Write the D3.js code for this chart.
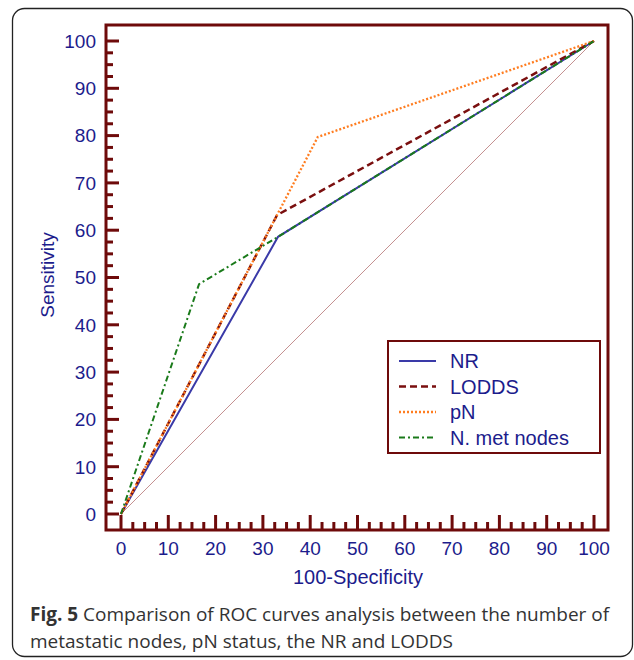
<!DOCTYPE html>
<html>
<head>
<meta charset="utf-8">
<script src="https://cdn.jsdelivr.net/npm/d3@7.9.0/dist/d3.min.js"></script>
<style>
  html, body { margin: 0; padding: 0; background: #fff; }
  svg { display: block; }
</style>
</head>
<body>
<svg id="chart" width="634" height="660"></svg>
<script>
// ROC curves, points are [100-specificity, sensitivity]
const seriesNames = ['NR', 'LODDS', 'pN', 'N. met nodes'];
const nrPoints = [[0, 0], [33.2, 58.6], [100, 100]];
const loddsPoints = [[0, 0], [33.0, 63.2], [100, 100]];
const pnPoints = [[0, 0], [41.6, 79.7], [100, 100]];
const metNodesPoints = [[0, 0], [16.5, 48.6], [33.2, 58.6], [100, 100]];
const refLine = [[0, 0], [100, 100]];
const majorTicks = [0, 10, 20, 30, 40, 50, 60, 70, 80, 90, 100];
const captionBold = 'Fig. 5';
const captionLines = [
  ' Comparison of ROC curves analysis between the number of',
  'metastatic nodes, pN status, the NR and LODDS'
];

const frameCol = '#6e0a0a';
const textCol = '#1c1c8c';
const font = 'Liberation Sans, Arial, sans-serif';

const svg = d3.select('#chart');

// outer rounded box round figure + caption
svg.append('rect')
  .attr('x', 12.5).attr('y', 8.5)
  .attr('width', 620).attr('height', 648)
  .attr('rx', 12)
  .attr('fill', 'none').attr('stroke', '#222').attr('stroke-width', 1.3);

const x = d3.scaleLinear().domain([0, 100]).range([121, 594]);
const y = d3.scaleLinear().domain([0, 100]).range([514, 41]);

const frame = { left: 106, right: 608, top: 25, bottom: 530 };

const minorTicks = d3.range(0, 100.1, 2.5).filter(v => v % 10 !== 0);

// ticks (point inward from frame)
const g = svg.append('g');
g.selectAll('.ytick')
  .data(majorTicks.map(v => [v, 13]).concat(minorTicks.map(v => [v, 7])))
  .join('line')
  .attr('x1', frame.left).attr('x2', d => frame.left + d[1])
  .attr('y1', d => y(d[0])).attr('y2', d => y(d[0]))
  .attr('stroke', frameCol).attr('stroke-width', 3);

g.selectAll('.xtick')
  .data(majorTicks.map(v => [v, 15]).concat(minorTicks.map(v => [v, 8])))
  .join('line')
  .attr('x1', d => x(d[0])).attr('x2', d => x(d[0]))
  .attr('y1', frame.bottom).attr('y2', d => frame.bottom - d[1])
  .attr('stroke', frameCol).attr('stroke-width', 3);

// tick labels
svg.append('g').selectAll('text')
  .data(majorTicks)
  .join('text')
  .attr('x', 96).attr('y', d => y(d))
  .attr('dy', '0.36em')
  .attr('text-anchor', 'end')
  .attr('font-family', font)
  .attr('font-size', 19)
  .attr('fill', textCol)
  .text(d => d);

svg.append('g').selectAll('text')
  .data(majorTicks)
  .join('text')
  .attr('x', d => x(d)).attr('y', 555)
  .attr('text-anchor', 'middle')
  .attr('font-family', font)
  .attr('font-size', 19)
  .attr('fill', textCol)
  .text(d => d);

// axis titles
svg.append('text')
  .attr('x', 358).attr('y', 584)
  .attr('text-anchor', 'middle')
  .attr('font-family', font)
  .attr('font-size', 20)
  .attr('fill', textCol)
  .text('100-Specificity');

svg.append('text')
  .attr('transform', 'translate(54,275) rotate(-90)')
  .attr('text-anchor', 'middle')
  .attr('font-family', font)
  .attr('font-size', 19)
  .attr('fill', textCol)
  .text('Sensitivity');

// curves
const line = d3.line().x(d => x(d[0])).y(d => y(d[1]));

svg.append('path').datum(refLine)
  .attr('d', line).attr('fill', 'none')
  .attr('stroke', '#c49090').attr('stroke-width', 1);

const styles = [
  { data: nrPoints, color: '#3a3aa8', width: 2, dash: null },
  { data: loddsPoints, color: '#7a0f0f', width: 2.5, dash: '7,4' },
  { data: pnPoints, color: '#ff7d20', width: 2.3, dash: '2,2' },
  { data: metNodesPoints, color: '#1a7a1a', width: 2, dash: '6,3,2,3' }
];

svg.append('g').selectAll('path')
  .data(styles)
  .join('path')
  .attr('d', d => line(d.data))
  .attr('fill', 'none')
  .attr('stroke', d => d.color)
  .attr('stroke-width', d => d.width)
  .attr('stroke-dasharray', d => d.dash);

// frame
svg.append('rect')
  .attr('x', frame.left).attr('y', frame.top)
  .attr('width', frame.right - frame.left).attr('height', frame.bottom - frame.top)
  .attr('fill', 'none').attr('stroke', frameCol).attr('stroke-width', 3);

// legend
const lg = svg.append('g');
lg.append('rect')
  .attr('x', 388).attr('y', 341).attr('width', 212).attr('height', 112)
  .attr('fill', '#fff').attr('stroke', frameCol).attr('stroke-width', 2);

const rows = lg.selectAll('g.row')
  .data(styles)
  .join('g')
  .attr('transform', (d, i) => 'translate(0,' + (361 + i * 25.5) + ')');

rows.append('line')
  .attr('x1', 399).attr('x2', 436)
  .attr('stroke', d => d.color)
  .attr('stroke-width', d => d.width)
  .attr('stroke-dasharray', d => d.dash);

rows.append('text')
  .attr('x', 450).attr('dy', '0.36em')
  .attr('font-family', font)
  .attr('font-size', 20)
  .attr('fill', textCol)
  .text((d, i) => seriesNames[i]);

// caption
const cap = svg.append('text')
  .attr('font-family', 'Open Sans, sans-serif')
  .attr('font-size', 19)
  .attr('fill', '#333');
const l1 = cap.append('tspan').attr('x', 30).attr('y', 621);
l1.append('tspan').attr('font-weight', 'bold').text(captionBold);
l1.append('tspan').text(captionLines[0]);
cap.append('tspan').attr('x', 30).attr('y', 648).text(captionLines[1]);
</script>
</body>
</html>
